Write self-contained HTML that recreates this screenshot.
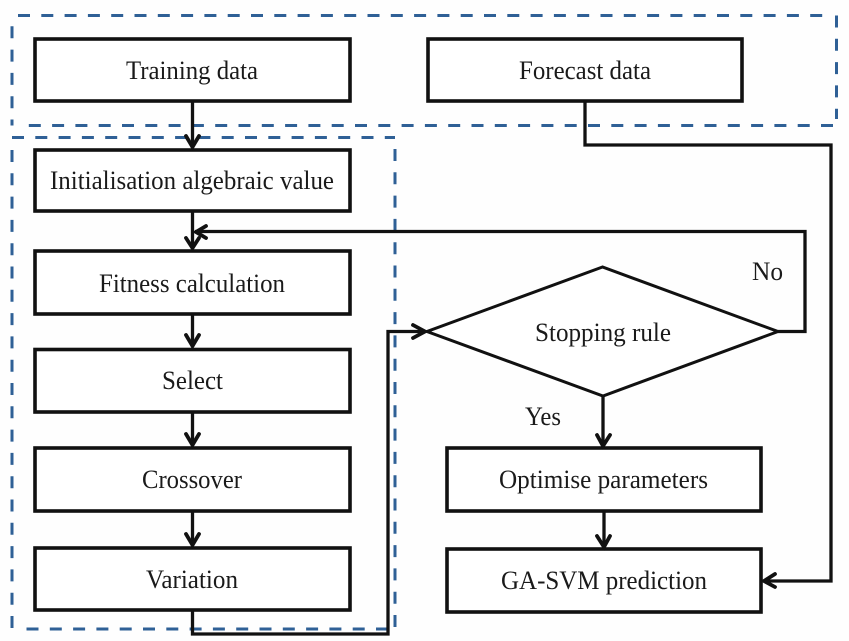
<!DOCTYPE html>
<html>
<head>
<meta charset="utf-8">
<style>
html,body{margin:0;padding:0;background:#fff;width:849px;height:641px;overflow:hidden}
svg{display:block;filter:blur(0.35px)}
text{font-family:"Liberation Serif",serif;font-size:26px;fill:#1a1a1a;text-anchor:middle}
</style>
</head>
<body>
<svg width="849" height="641" viewBox="0 0 849 641" xmlns="http://www.w3.org/2000/svg">
<rect width="849" height="641" fill="#fefefe"/>
<g fill="none" stroke="#2f6096" stroke-width="3" stroke-dasharray="12 11.3">
  <path d="M18 15.500H831"/>
  <path d="M836.500 15.500V119"/>
  <path d="M833 125.500H28"/>
  <path d="M12 125.500V20" stroke-dashoffset="6"/>
  <path d="M12 137.500H395"/>
  <path d="M395 149V629"/>
  <path d="M388 629H22"/>
  <path d="M12 150V630"/>
</g>
<g fill="#fff" stroke="#111" stroke-width="3.600">
  <rect x="35" y="39" width="315" height="62"/>
  <rect x="428" y="39" width="314" height="62"/>
  <rect x="35" y="150" width="315" height="61"/>
  <rect x="35" y="251" width="315" height="63"/>
  <rect x="35" y="349.500" width="315" height="62.500"/>
  <rect x="35" y="448" width="315" height="63"/>
  <rect x="35" y="548" width="315" height="62"/>
  <rect x="447" y="448" width="314" height="63"/>
  <rect x="447" y="549" width="314" height="63"/>
</g>
<path d="M602.500 267L427 331.500L603 396L778 331.500Z" fill="#fff" stroke="#111" stroke-width="3" stroke-linejoin="miter"/>
<g fill="none" stroke="#111" stroke-width="3.300" stroke-linejoin="miter">
  <path d="M192.500 101V148"/>
  <path d="M192.500 211V249"/>
  <path d="M192.500 314V347"/>
  <path d="M192.500 412V446"/>
  <path d="M192.500 511V546"/>
  <path d="M192.500 610V634H388V331.500H425"/>
  <path d="M585 101V145H831V581H764"/>
  <path d="M778 331.500H805V231.500H195"/>
  <path d="M603 396V446"/>
  <path d="M604 511V547"/>
</g>
<g fill="none" stroke="#111" stroke-width="3.800" stroke-linecap="round" stroke-linejoin="miter">
  <path d="M186 136L192.500 147L199 136"/>
  <path d="M186 238L192.500 248L199 238"/>
  <path d="M186 335L192.500 346L199 335"/>
  <path d="M186 434L192.500 445L199 434"/>
  <path d="M186 534L192.500 545L199 534"/>
  <path d="M206 226L196 232L206 238"/>
  <path d="M413 325L425 331.500L413 338"/>
  <path d="M597 435L603 446L610 435"/>
  <path d="M597 536L604 547L610 536"/>
  <path d="M775 574L764 581L775 587"/>
</g>
<text x="192" y="79" textLength="132" lengthAdjust="spacingAndGlyphs">Training data</text>
<text x="585" y="79" textLength="132" lengthAdjust="spacingAndGlyphs">Forecast data</text>
<text x="192" y="189" textLength="284" lengthAdjust="spacingAndGlyphs">Initialisation algebraic value</text>
<text x="192" y="292" textLength="186" lengthAdjust="spacingAndGlyphs">Fitness calculation</text>
<text x="192.500" y="389" textLength="61" lengthAdjust="spacingAndGlyphs">Select</text>
<text x="192" y="488" textLength="100" lengthAdjust="spacingAndGlyphs">Crossover</text>
<text x="192" y="588" textLength="92" lengthAdjust="spacingAndGlyphs">Variation</text>
<text x="603" y="341" textLength="136" lengthAdjust="spacingAndGlyphs">Stopping rule</text>
<text x="767.500" y="280" textLength="31" lengthAdjust="spacingAndGlyphs">No</text>
<text x="543" y="425" textLength="36" lengthAdjust="spacingAndGlyphs">Yes</text>
<text x="603.500" y="488" textLength="209" lengthAdjust="spacingAndGlyphs">Optimise parameters</text>
<text x="604" y="589" textLength="206" lengthAdjust="spacingAndGlyphs">GA-SVM prediction</text>
</svg>
</body>
</html>
